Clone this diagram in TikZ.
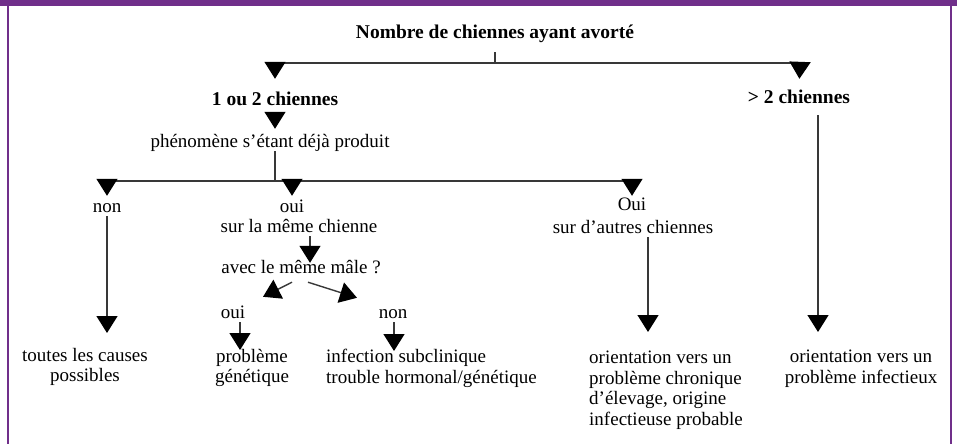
\documentclass[tikz,border=0pt]{standalone}
\usepackage{fontspec}
\setmainfont{Liberation Serif}
\usetikzlibrary{arrows.meta,calc}
\definecolor{bandpurple}{HTML}{702F8A}
\definecolor{linegray}{gray}{0.22}
\tikzset{
  txt/.style={inner sep=0pt, font=\fontsize{19}{20.5}\selectfont, text height=13pt, text depth=4pt, anchor=base},
  btxt/.style={txt, font=\fontsize{19.5}{21}\selectfont\bfseries},
  mtxt/.style={inner sep=0pt, font=\fontsize{19}{20.5}\selectfont},
  conn/.style={draw=linegray, line width=1.4pt},
  arr/.style={conn, -{Triangle[width=21pt,length=17pt,color=black]}},
}
\begin{document}
\begin{tikzpicture}[x=1pt,y=-1pt]
\useasboundingbox (0,0) rectangle (957,444);
% frame
\fill[bandpurple] (0,0) rectangle (957,6);
\draw[bandpurple, line width=1.5pt] (8,6) -- (8,444);
\draw[bandpurple, line width=1.5pt] (951,6) -- (951,444);

% text nodes
\node[btxt] (title) at (495,38) {Nombre de chiennes ayant avorté};
\node[btxt] (n12) at (275,105) {1 ou 2 chiennes};
\node[btxt] (n2) at (799,103) {> 2 chiennes};
\node[txt] (phen) at (270,147) {phénomène s’étant déjà produit};
\node[txt] (non1) at (107,212) {non};
\node[txt] (oui1) at (292,212) {oui};
\node[txt] (sur1) at (299,232) {sur la même chienne};
\node[txt] (avec) at (301,273) {avec le même mâle ?};
\node[txt] (Oui2) at (632,210) {Oui};
\node[txt] (sur2) at (633,233) {sur d’autres chiennes};
\node[txt] (oui2) at (233,318) {oui};
\node[txt] (non2) at (393,318) {non};
\node[mtxt, align=center, anchor=north] (toutes) at (85,348) {toutes les causes\\possibles};
\node[mtxt, align=center, anchor=north] (prob) at (252,349) {problème\\génétique};
\node[mtxt, align=left, anchor=north west] (infect) at (326,349) {infection subclinique\\trouble hormonal/génétique};
\node[mtxt, align=left, anchor=north west] (orient1) at (589,351) {orientation vers un\\problème chronique\\d’élevage, origine\\infectieuse probable};
\node[mtxt, align=center, anchor=north] (orient2) at (861,350) {orientation vers un\\problème infectieux};

% junction coordinates
\coordinate (j1) at (495,63);
\coordinate (a1) at (275,63);
\coordinate (a2) at (800,63);
\coordinate (j2) at (275,181);
\coordinate (b1) at (107,181);
\coordinate (b2) at (292,181);
\coordinate (b3) at (632,181);

% top level
\draw[conn, shorten <=10pt] (title.south) -- (j1);
\draw[conn] (a1) -- (a2);
\draw[arr, shorten >=13pt] (a1) -- (n12.north);
\draw[arr, shorten >=11pt] (a2) -- (n2.north);

% left branch
\draw[arr, shorten <=3pt, shorten >=5pt] (n12.south) -- (n12.south |- phen.north);
\draw[conn] (phen.south -| j2) -- (j2);
\draw[conn] (b1) -- (b3);
\draw[arr, shorten >=3pt] (b1) -- (non1.north);
\draw[arr, shorten >=3pt] (b2) -- (oui1.north);
\draw[arr, shorten >=1pt] (b3) -- (Oui2.north);

% oui, same bitch
\coordinate (s1) at ($(sur1.south)+(11,0)$);
\coordinate (s2) at ($(avec.north)+(9,3)$);
\draw[arr] (s1) -- (s2);
\coordinate (d1) at ($(avec.south)+(-9,5)$);
\coordinate (d2) at ($(oui2.north)+(30,-8)$);
\draw[arr] (d1) -- (d2);
\coordinate (d3) at ($(avec.south)+(7,5)$);
\coordinate (d4) at ($(non2.north)+(-36,-7)$);
\draw[arr] (d3) -- (d4);
\coordinate (p1) at ($(oui2.south)+(7,0)$);
\coordinate (p2) at ($(prob.north)+(-12,1)$);
\draw[arr] (p1) -- (p2);
\coordinate (q1) at ($(non2.south)+(1,0)$);
\coordinate (q2) at ($(infect.north west)+(68,2)$);
\draw[arr] (q1) -- (q2);

% non
\coordinate (t2) at ($(toutes.north)+(22,-15)$);
\draw[arr] (non1.south) -- (t2);

% Oui, other bitches
\coordinate (r1) at ($(sur2.south)+(15,0)$);
\coordinate (r2) at ($(orient1.north west)+(59,-19)$);
\draw[arr] (r1) -- (r2);

% > 2
\coordinate (u1) at ($(n2.south)+(19,8)$);
\coordinate (u2) at ($(orient2.north)+(-43,-18)$);
\draw[arr] (u1) -- (u2);
\end{tikzpicture}
\end{document}
